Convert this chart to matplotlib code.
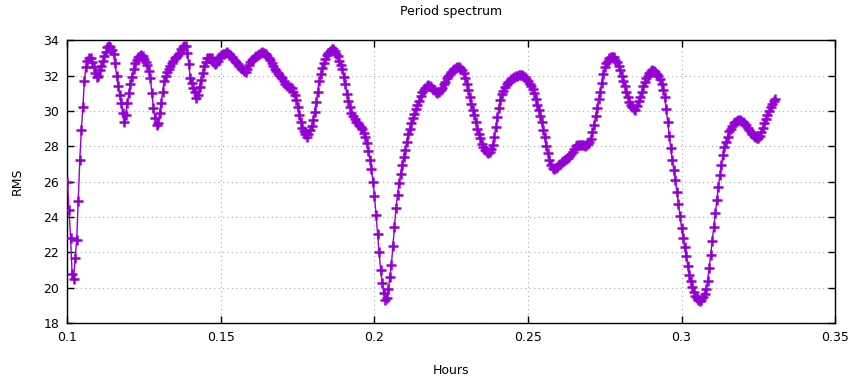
import numpy as np
import matplotlib
matplotlib.use("Agg")
import matplotlib.pyplot as plt

# Period (hours) grid start/step and RMS values
period_start = 0.1000
period_step = 0.0005
rms = [
    26.0, 24.4, 22.8, 20.8, 20.5, 21.7, 22.7, 24.9, 27.2, 28.9,   # 0.1000-0.1045
    30.2, 31.7, 32.5, 32.85, 33.0, 33.0, 32.75, 32.5, 32.15, 31.9,  # 0.1050-0.1095
    32.0, 32.3, 32.55, 32.85, 33.1, 33.35, 33.6, 33.7, 33.6, 33.45,  # 0.1100-0.1145
    33.25, 32.7, 32.0, 31.4, 30.9, 30.45, 29.9, 29.35, 29.8, 30.45,  # 0.1150-0.1195
    31.0, 31.5, 31.95, 32.4, 32.7, 32.9, 33.05, 33.12, 33.17, 33.1,  # 0.1200-0.1245
    32.95, 32.8, 32.6, 32.25, 31.85, 31.0, 30.15, 29.6, 29.2, 29.3,  # 0.1250-0.1295
    29.9, 30.45, 31.1, 31.7, 32.0, 32.2, 32.4, 32.55, 32.7, 32.85,  # 0.1300-0.1345
    33.0, 33.05, 33.15, 33.3, 33.5, 33.6, 33.65, 33.7, 33.3, 32.65,  # 0.1350-0.1395
    31.85, 31.6, 31.3, 31.05, 30.75, 30.9, 31.35, 31.75, 32.15, 32.55,  # 0.1400-0.1445
    32.8, 33.0, 33.0, 33.0, 33.0, 32.8, 32.65, 32.7, 32.85, 33.05,  # 0.1450-0.1495
    33.15, 33.2, 33.25, 33.3, 33.35, 33.25, 33.15, 33.05, 32.95, 32.85,  # 0.1500-0.1545
    32.75, 32.65, 32.55, 32.45, 32.35, 32.25, 32.2, 32.4, 32.6, 32.8,  # 0.1550-0.1595
    32.88, 32.95, 33.05, 33.1, 33.15, 33.22, 33.28, 33.32, 33.3, 33.22,  # 0.1600-0.1645
    33.1, 33.0, 32.9, 32.7, 32.55, 32.4, 32.25, 32.15, 32.05, 31.95,  # 0.1650-0.1695
    31.85, 31.7, 31.55, 31.4, 31.35, 31.33, 31.3, 31.1, 30.9, 30.6,  # 0.1700-0.1745
    30.2, 29.75, 29.4, 29.05, 28.85, 28.7, 28.55, 28.7, 28.9, 29.15,  # 0.1750-0.1795
    29.5, 29.95, 30.5, 31.1, 31.7, 32.1, 32.45, 32.7, 32.95, 33.17,  # 0.1800-0.1845
    33.3, 33.4, 33.5, 33.5, 33.4, 33.25, 33.1, 32.85, 32.6, 32.35,  # 0.1850-0.1895
    31.95, 31.5, 30.95, 30.55, 30.2, 29.9, 29.7, 29.55, 29.4, 29.3,  # 0.1900-0.1945
    29.2, 29.1, 29.0, 28.75, 28.5, 28.2, 27.75, 27.25, 26.7, 26.0,  # 0.1950-0.1995
    25.2, 24.1, 23.05, 22.0, 21.0, 20.25, 19.7, 19.3, 19.4, 19.9,  # 0.2000-0.2045
    20.6, 21.3, 22.35, 23.45, 24.5, 25.25, 25.9, 26.45, 26.95, 27.4,  # 0.2050-0.2095
    27.8, 28.25, 28.7, 29.0, 29.3, 29.6, 29.85, 30.1, 30.35, 30.55,  # 0.2100-0.2145
    30.85, 31.1, 31.2, 31.3, 31.42, 31.45, 31.4, 31.33, 31.27, 31.17,  # 0.2150-0.2195
    31.07, 31.0, 31.1, 31.2, 31.3, 31.5, 31.65, 31.85, 31.97, 32.1,  # 0.2200-0.2245
    32.22, 32.32, 32.37, 32.42, 32.47, 32.5, 32.42, 32.3, 32.15, 31.85,  # 0.2250-0.2295
    31.55, 31.2, 30.8, 30.4, 30.05, 29.75, 29.4, 29.0, 28.7, 28.45,  # 0.2300-0.2345
    28.15, 27.95, 27.8, 27.65, 27.6, 27.7, 27.85, 28.1, 28.55, 29.1,  # 0.2350-0.2395
    29.65, 30.16, 30.6, 30.95, 31.15, 31.35, 31.5, 31.62, 31.7, 31.8,  # 0.2400-0.2445
    31.88, 31.94, 31.97, 32.0, 32.02, 32.04, 32.02, 31.97, 31.9, 31.8,  # 0.2450-0.2495
    31.7, 31.55, 31.4, 31.25, 31.0, 30.7, 30.35, 30.05, 29.7, 29.35,  # 0.2500-0.2545
    28.95, 28.5, 28.0, 27.6, 27.2, 26.95, 26.75, 26.7, 26.77, 26.85,  # 0.2550-0.2595
    26.92, 27.0, 27.1, 27.17, 27.22, 27.27, 27.35, 27.45, 27.57, 27.7,  # 0.2600-0.2645
    27.85, 27.99, 28.05, 28.08, 28.1, 28.08, 28.05, 28.01, 28.05, 28.15,  # 0.2650-0.2695
    28.25, 28.4, 28.8, 29.2, 29.7, 30.15, 30.65, 31.1, 31.6, 32.1,  # 0.2700-0.2745
    32.5, 32.7, 32.85, 33.0, 33.05, 33.07, 33.05, 32.9, 32.75, 32.55,  # 0.2750-0.2795
    32.3, 32.0, 31.7, 31.4, 31.1, 30.8, 30.5, 30.35, 30.2, 30.1,  # 0.2800-0.2845
    30.08, 30.3, 30.55, 30.8, 31.1, 31.4, 31.65, 31.87, 32.0, 32.15,  # 0.2850-0.2895
    32.25, 32.3, 32.25, 32.18, 32.1, 32.0, 31.8, 31.5, 31.2, 30.8,  # 0.2900-0.2945
    30.1, 29.4, 28.6, 27.9, 27.2, 26.65, 26.1, 25.4, 24.75, 24.05,  # 0.2950-0.2995
    23.4, 22.8, 22.3, 21.8, 21.25, 20.74, 20.4, 20.05, 19.75, 19.55,  # 0.3000-0.3045
    19.4, 19.28, 19.23, 19.3, 19.45, 19.62, 19.95, 20.36, 21.1, 21.87,  # 0.3050-0.3095
    22.65, 23.45, 24.2, 24.95, 25.7, 26.35, 26.95, 27.5, 27.95, 28.25,  # 0.3100-0.3145
    28.55, 28.84, 29.0, 29.15, 29.3, 29.4, 29.45, 29.5, 29.5, 29.45,  # 0.3150-0.3195
    29.38, 29.3, 29.2, 29.05, 28.95, 28.8, 28.68, 28.6, 28.52, 28.47,  # 0.3200-0.3245
    28.48, 28.6, 28.8, 29.05, 29.3, 29.55, 29.8, 30.0, 30.2, 30.4,  # 0.3250-0.3295
    30.55, 30.7,  # 0.3300-0.3305
]
hours = period_start + period_step * np.arange(len(rms))

x_ticks = [0.1, 0.15, 0.2, 0.25, 0.3, 0.35]
x_ticklabels = ["0.1", "0.15", "0.2", "0.25", "0.3", "0.35"]
y_ticks = [18, 20, 22, 24, 26, 28, 30, 32, 34]

plt.rcParams['font.family'] = ['DejaVu Sans']

fig = plt.figure(figsize=(8.53, 3.82), dpi=100)
ax = fig.add_axes([67.5 / 853, 1 - 323 / 382, (835 - 67.5) / 853, (323 - 40.3) / 382])

ax.plot(hours, rms, color='#9400D3', linewidth=1.0, marker='+',
        markersize=6.5, markeredgewidth=1.8, zorder=3)

ax.set_xlim(0.1, 0.35)
ax.set_ylim(18, 34)
ax.set_xticks(x_ticks)
ax.set_xticklabels(x_ticklabels)
ax.set_yticks(y_ticks)
ax.tick_params(direction='in', length=5, width=1, top=True, right=True,
               labelsize=9, pad=6, colors='black')
ax.grid(True, color='#a8a8a8', linestyle=(0, (1, 3)), linewidth=0.8)
for s in ax.spines.values():
    s.set_linewidth(1.0)
    s.set_color('black')

ax.set_xlabel("Hours", fontsize=9, labelpad=14)
ax.set_ylabel("RMS", fontsize=9, labelpad=14)
ax.set_title("Period spectrum", fontsize=9, pad=18)

fig.savefig("out.png", dpi=100)
